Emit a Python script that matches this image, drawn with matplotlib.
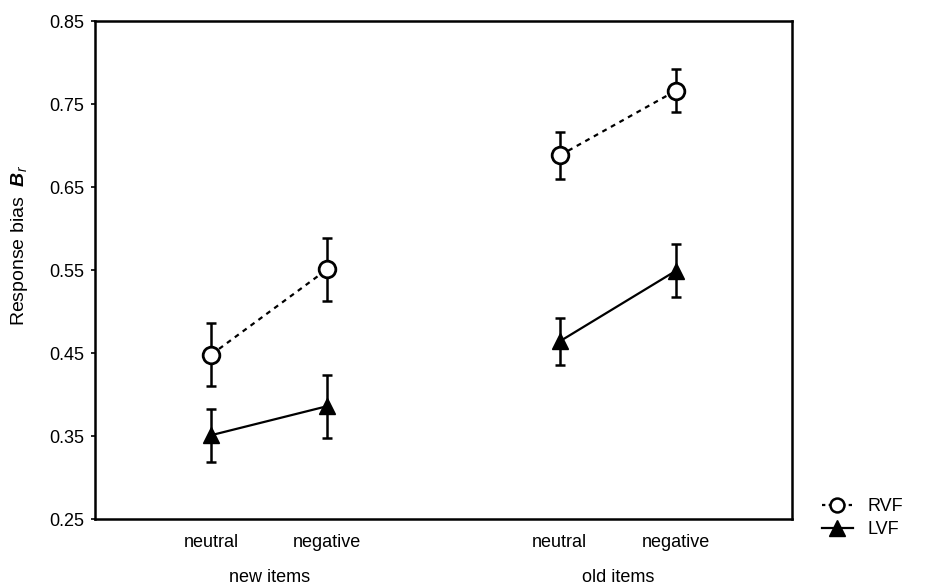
import matplotlib
matplotlib.use("Agg")
import matplotlib.pyplot as plt
import numpy as np

plt.rcParams["font.family"] = ["Liberation Sans", "DejaVu Sans"]
plt.rcParams["mathtext.fontset"] = "custom"
plt.rcParams["mathtext.rm"] = "Liberation Sans"
plt.rcParams["mathtext.it"] = "Liberation Sans:italic"
plt.rcParams["mathtext.bf"] = "Liberation Sans:bold:italic"

# data
conditions = ["neutral", "negative", "neutral", "negative"]
groups = ["new items", "old items"]
x_pos = [1, 2, 4, 5]
group_pos = [1.5, 4.5]

rvf_mean = [0.448, 0.551, 0.688, 0.766]
rvf_err = [0.038, 0.038, 0.028, 0.026]
lvf_mean = [0.351, 0.386, 0.464, 0.549]
lvf_err = [0.032, 0.038, 0.028, 0.032]

yticks = [0.25, 0.35, 0.45, 0.55, 0.65, 0.75, 0.85]

FS = 13

fig = plt.figure(figsize=(9.28, 5.86), dpi=100)
ax = fig.add_axes([0.1024, 0.1143, 0.751, 0.8498])

err_kw = dict(fmt="none", ecolor="black", elinewidth=1.8, capsize=3.5, capthick=1.8, zorder=2)

# new and old items are drawn as separate segments
for sl in (slice(0, 2), slice(2, 4)):
    xs = x_pos[sl]
    ax.errorbar(xs, rvf_mean[sl], yerr=rvf_err[sl], **err_kw)
    ax.errorbar(xs, lvf_mean[sl], yerr=lvf_err[sl], **err_kw)
    ax.plot(xs, rvf_mean[sl], color="black", lw=1.6, linestyle=(0, (2.2, 2.2)),
            marker="o", markersize=12, markerfacecolor="white",
            markeredgecolor="black", markeredgewidth=2, zorder=3)
    ax.plot(xs, lvf_mean[sl], color="black", lw=1.6, linestyle="-",
            marker="^", markersize=12, markerfacecolor="black",
            markeredgecolor="black", zorder=3)

# legend handles
h_rvf, = ax.plot([], [], color="black", lw=1.6, linestyle=(0, (1.5, 1.5)), marker="o",
                 markersize=10, markerfacecolor="white", markeredgewidth=1.8)
h_lvf, = ax.plot([], [], color="black", lw=1.6, linestyle="-", marker="^",
                 markersize=11, markerfacecolor="black")
ax.legend([h_rvf, h_lvf], ["RVF", "LVF"], loc="center left",
          bbox_to_anchor=(1.043, 0.002), frameon=False, fontsize=FS,
          handlelength=1.7, handletextpad=0.8, labelspacing=0.35,
          borderpad=0, borderaxespad=0)

ax.set_xlim(0, 6)
ax.set_ylim(0.25, 0.85)
ax.set_yticks(yticks)
ax.set_yticklabels([f"{t:.2f}" for t in yticks])
ax.set_xticks(x_pos)
ax.set_xticklabels(conditions)
ax.tick_params(axis="y", direction="out", length=3, width=1.2, labelsize=FS, pad=5)
ax.tick_params(axis="x", length=0, labelsize=FS, pad=11)

for sp in ax.spines.values():
    sp.set_linewidth(1.8)

for gx, gname in zip(group_pos, groups):
    ax.text(gx, -0.118, gname, transform=ax.get_xaxis_transform(),
            ha="center", va="center", fontsize=FS)

ax.set_ylabel(r"Response bias  $\mathbf{B}_r$", fontsize=14)
ax.yaxis.set_label_coords(-0.093, 0.55)

fig.savefig("out.png", dpi=100)
